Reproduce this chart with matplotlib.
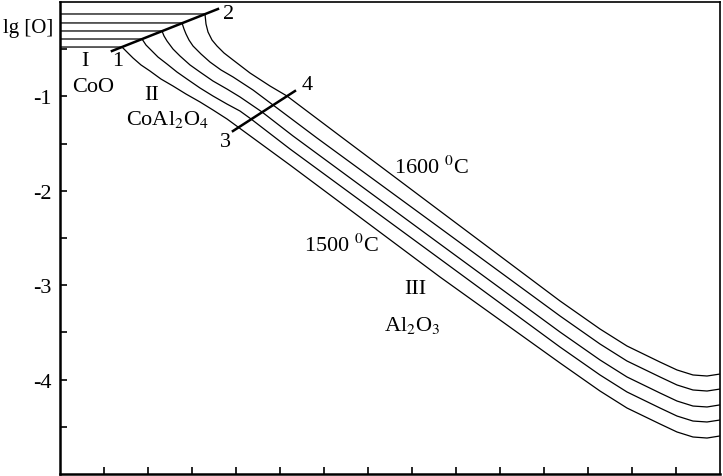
import numpy as np
import matplotlib.pyplot as plt

plt.rcParams['font.family'] = ['Liberation Serif', 'DejaVu Serif']
plt.rcParams['mathtext.fontset'] = 'stix'
plt.rcParams['axes.unicode_minus'] = False

# isotherms, bottom (1500 C) to top (1600 C)
x1 = [0, 1.409, 1.523, 1.659, 1.841, 2.045, 2.295, 2.568, 2.864, 3.182, 3.477, 3.795, 4.045,
      5.227, 8.636, 11.364, 12.273, 12.886, 13.636, 14.023, 14.386, 14.705, 15.0]
y1 = [-0.477, -0.477, -0.530, -0.593, -0.667, -0.731, -0.816, -0.890, -0.975, -1.059, -1.144, -1.239, -1.324,
      -1.727, -2.913, -3.824, -4.121, -4.301, -4.470, -4.555, -4.608, -4.619, -4.597]

x2 = [0, 1.864, 1.955, 2.045, 2.227, 2.432, 2.659, 2.886, 3.182, 3.477, 3.795, 4.091, 4.341,
      5.227, 8.636, 11.364, 12.273, 12.886, 13.636, 14.023, 14.386, 14.705, 15.0]
y2 = [-0.392, -0.392, -0.456, -0.498, -0.583, -0.657, -0.742, -0.816, -0.911, -0.996, -1.081, -1.155, -1.239,
      -1.557, -2.722, -3.655, -3.951, -4.131, -4.301, -4.386, -4.439, -4.449, -4.428]

x3 = [0, 2.318, 2.364, 2.432, 2.568, 2.727, 2.955, 3.182, 3.477, 3.795, 4.091, 4.591,
      5.295, 8.636, 11.364, 12.273, 12.886, 13.636, 14.023, 14.386, 14.705, 15.0]
y3 = [-0.307, -0.307, -0.360, -0.413, -0.498, -0.572, -0.667, -0.742, -0.837, -0.922, -1.006, -1.165,
      -1.419, -2.564, -3.496, -3.792, -3.972, -4.142, -4.227, -4.280, -4.290, -4.268]

x4 = [0, 2.773, 2.818, 2.864, 2.932, 3.023, 3.205, 3.409, 3.659, 3.932, 4.386, 4.841,
      5.841, 8.636, 11.364, 12.273, 12.886, 13.636, 14.023, 14.386, 14.705, 15.0]
y4 = [-0.222, -0.222, -0.286, -0.339, -0.403, -0.466, -0.551, -0.636, -0.720, -0.794, -0.932, -1.091,
      -1.441, -2.394, -3.326, -3.623, -3.803, -3.972, -4.057, -4.110, -4.121, -4.100]

x5 = [0, 3.295, 3.318, 3.364, 3.455, 3.568, 3.727, 3.932, 4.318, 4.773, 5.159,
      6.364, 8.636, 11.364, 12.273, 12.886, 13.636, 14.023, 14.386, 14.705, 15.0]
y5 = [-0.127, -0.127, -0.233, -0.318, -0.403, -0.466, -0.540, -0.614, -0.752, -0.890, -0.996,
      -1.419, -2.214, -3.167, -3.464, -3.644, -3.814, -3.898, -3.951, -3.962, -3.941]

# phase boundary lines 1-2 and 3-4
line12_x = [1.18, 3.59]
line12_y = [-0.519, -0.074]
line34_x = [3.93, 5.34]
line34_y = [-1.367, -0.943]

yticks = [-1, -2, -3, -4]
yticklabels = ['-1', '-2', '-3', '-4']

fig = plt.figure(figsize=(7.23, 4.77), dpi=100)
ax = fig.add_axes([60 / 723, 2 / 477, 660 / 723, 472 / 477])

for xs, ys in [(x1, y1), (x2, y2), (x3, y3), (x4, y4), (x5, y5)]:
    ax.plot(xs, ys, color='black', lw=0.9)
ax.plot(line12_x, line12_y, color='black', lw=1.8)
ax.plot(line34_x, line34_y, color='black', lw=1.8)

ax.set_xlim(0, 15)
ax.set_ylim(-5, 0)
ax.set_xticks(range(1, 15))
ax.set_xticklabels([])
ax.set_yticks(yticks)
ax.set_yticklabels(yticklabels, fontsize=16)
ax.set_yticks(np.arange(-4.5, 0, 1.0), minor=True)
ax.tick_params(axis='both', which='both', direction='in', length=5, width=1.2, pad=6)
for s in ['left', 'bottom']:
    ax.spines[s].set_linewidth(1.8)
for s in ['top', 'right']:
    ax.spines[s].set_linewidth(1.2)

fs = 16
ax.text(-0.16, -0.265, 'lg [O]', fontsize=15, ha='right', va='center', clip_on=False)
ax.text(3.84, -0.117, '2', fontsize=fs, ha='center', va='center')
ax.text(0.57, -0.625, 'I', fontsize=fs, ha='center', va='center')
ax.text(1.30, -0.625, '1', fontsize=fs, ha='center', va='center')
ax.text(0.75, -0.90, 'CoO', fontsize=fs, ha='center', va='center')
ax.text(2.09, -0.985, 'II', fontsize=fs, ha='center', va='center')
ax.text(2.45, -1.229, r'CoAl$_2$O$_4$', fontsize=fs, ha='center', va='center')
ax.text(3.75, -1.483, '3', fontsize=fs, ha='center', va='center')
ax.text(5.61, -0.879, '4', fontsize=fs, ha='center', va='center')
ax.text(8.45, -1.748, r'1600 $^{0}$C', fontsize=fs, ha='center', va='center')
ax.text(6.39, -2.574, r'1500 $^{0}$C', fontsize=fs, ha='center', va='center')
ax.text(8.07, -3.04, 'III', fontsize=fs, ha='center', va='center')
ax.text(8.0, -3.42, r'Al$_2$O$_3$', fontsize=fs, ha='center', va='center')

fig.savefig('out.png', dpi=100)
